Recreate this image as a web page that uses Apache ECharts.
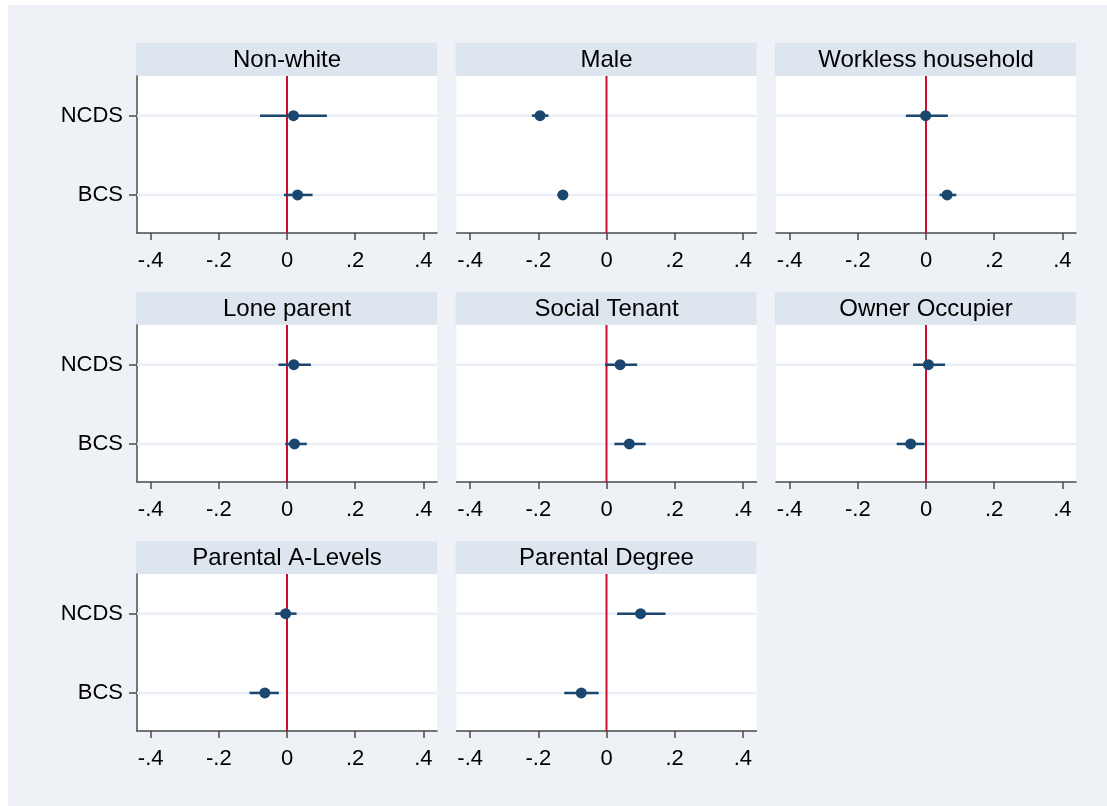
<!DOCTYPE html>
<html>
<head>
<meta charset="utf-8">
<script src="https://cdn.jsdelivr.net/npm/echarts@6/dist/echarts.min.js"></script>
<style>
  html, body { margin:0; padding:0; background:#ffffff; width:1107px; height:806px; overflow:hidden; }
  #bg { position:absolute; left:8px; top:5px; right:0; bottom:0; background:#EEF1F6; }
  #chart { position:absolute; left:0; top:0; width:1107px; height:806px; }
</style>
</head>
<body>
<div id="bg"></div>
<div id="chart"></div>
<script>
// ---- data ----
const panels = ['Non-white','Male','Workless household','Lone parent','Social Tenant','Owner Occupier','Parental A-Levels','Parental Degree'];
const categories = ['BCS','NCDS'];            // plotted at y = 1, 2
const ncdsEst = [0.019, -0.195, -0.001, 0.020, 0.040, 0.007, -0.004, 0.100];
const ncdsLo  = [-0.079, -0.219, -0.059, -0.025, -0.004, -0.038, -0.035, 0.031];
const ncdsHi  = [0.117, -0.170, 0.064, 0.070, 0.090, 0.056, 0.028, 0.173];
const bcsEst  = [0.031, -0.128, 0.062, 0.022, 0.067, -0.045, -0.065, -0.074];
const bcsLo   = [-0.009, -0.144, 0.040, -0.005, 0.023, -0.086, -0.110, -0.124];
const bcsHi   = [0.075, -0.114, 0.089, 0.058, 0.115, -0.004, -0.024, -0.023];
const xTicks = [-0.4, -0.2, 0, 0.2, 0.4];
const xTickLabels = ['-.4', '-.2', '0', '.2', '.4'];
const refValue = 0;

// ---- layout / style ----
const colLeft = [137, 456.5, 776];
const rowTop = [76, 325, 574];
const gW = 300, gH = 157, stripH = 33;
const NAVY = '#1A476F', RED = '#C8102E', GRID = '#E9EFF4', STRIP = '#DDE5EE', AXIS = '#4a4a4a';
const FONT = 'Liberation Sans, Arial, sans-serif';

const grids = [], xAxes = [], yAxes = [], series = [], graphics = [];
const catY = categories.map((c, i) => i + 1);

panels.forEach((name, i) => {
  const col = i % 3, row = Math.floor(i / 3);
  const left = colLeft[col], top = rowTop[row];
  grids.push({ left: left, top: top, width: gW, height: gH, show: true, backgroundColor: '#ffffff', borderWidth: 0, containLabel: false });
  xAxes.push({
    type: 'value', gridIndex: i, min: -0.44, max: 0.44,
    axisLine: { show: true, onZero: false, lineStyle: { color: AXIS, width: 1.5 } },
    axisTick: { show: true, inside: false, length: 7, customValues: xTicks, lineStyle: { color: AXIS, width: 1.5 } },
    axisLabel: { show: true, margin: 17, customValues: xTicks, color: '#000', fontFamily: FONT, fontSize: 22,
      formatter: v => { const k = xTicks.findIndex(t => Math.abs(t - v) < 1e-9); return k >= 0 ? xTickLabels[k] : ''; } },
    splitLine: { show: false }
  });
  const showY = col === 0;
  yAxes.push({
    type: 'value', gridIndex: i, min: 0.52, max: 2.5,
    axisLine: { show: showY, onZero: false, lineStyle: { color: AXIS, width: 1.5 } },
    axisTick: { show: showY, inside: false, length: 8, customValues: catY, lineStyle: { color: AXIS, width: 1.5 } },
    axisLabel: { show: showY, margin: 14, customValues: catY, color: '#000', fontFamily: FONT, fontSize: 22,
      formatter: v => categories[Math.round(v) - 1] || '' },
    splitLine: { show: false }
  });
  // horizontal gridlines at categories
  series.push({
    type: 'custom', xAxisIndex: i, yAxisIndex: i, z: 1, silent: true,
    data: catY.map(y => [0, y]),
    renderItem: (params, api) => {
      const p = api.coord([0, api.value(1)]);
      const cs = params.coordSys;
      return { type: 'line', shape: { x1: cs.x, y1: p[1], x2: cs.x + cs.width, y2: p[1] }, style: { stroke: GRID, lineWidth: 2.5 } };
    }
  });
  // reference line at 0
  series.push({
    type: 'custom', xAxisIndex: i, yAxisIndex: i, z: 2, silent: true,
    data: [[refValue, 1]],
    renderItem: (params, api) => {
      const p = api.coord([api.value(0), 1]);
      const cs = params.coordSys;
      return { type: 'line', shape: { x1: p[0], y1: cs.y, x2: p[0], y2: cs.y + cs.height }, style: { stroke: RED, lineWidth: 2 } };
    }
  });
  // confidence intervals
  series.push({
    type: 'custom', xAxisIndex: i, yAxisIndex: i, z: 3, silent: true,
    data: [[bcsLo[i], bcsHi[i], 1], [ncdsLo[i], ncdsHi[i], 2]],
    renderItem: (params, api) => {
      const a = api.coord([api.value(0), api.value(2)]);
      const b = api.coord([api.value(1), api.value(2)]);
      return { type: 'line', shape: { x1: a[0], y1: a[1], x2: b[0], y2: b[1] }, style: { stroke: NAVY, lineWidth: 2.5 } };
    }
  });
  // point estimates
  series.push({
    type: 'scatter', xAxisIndex: i, yAxisIndex: i, z: 4, silent: true,
    symbol: 'circle', symbolSize: 11,
    itemStyle: { color: NAVY, opacity: 1 },
    data: [[bcsEst[i], 1], [ncdsEst[i], 2]]
  });
  // title strip
  graphics.push({ type: 'rect', shape: { x: left - 1, y: top - stripH, width: gW + 1, height: stripH }, style: { fill: STRIP } });
  graphics.push({ type: 'text', x: left + gW / 2, y: top - stripH / 2 + 0.5,
    style: { text: name, fill: '#000', font: '24px ' + FONT, textAlign: 'center', textVerticalAlign: 'middle' } });
});

const chart = echarts.init(document.getElementById('chart'), null, { renderer: 'canvas' });
chart.setOption({
  backgroundColor: 'transparent',
  animation: false,
  grid: grids,
  xAxis: xAxes,
  yAxis: yAxes,
  series: series,
  graphic: { elements: graphics }
});
</script>
</body>
</html>
